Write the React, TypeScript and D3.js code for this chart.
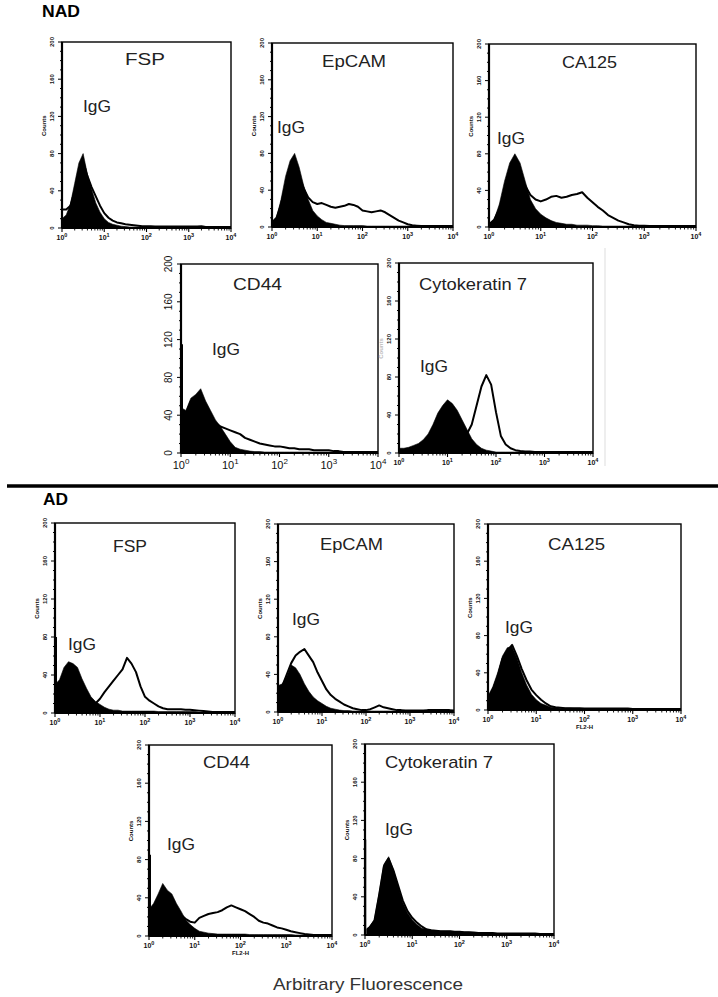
import React from 'react';
import * as d3 from 'd3';

// log10 fluorescence channel positions (0 .. 4, step 0.1)
const LOG_BINS = d3.range(0, 4.0001, 0.1);
const FLUOR = LOG_BINS.map((l) => Math.pow(10, l));

const PANEL_NAMES = ['FSP', 'EpCAM', 'CA125', 'CD44', 'Cytokeratin 7', 'FSP', 'EpCAM', 'CA125', 'CD44', 'Cytokeratin 7'];
const GROUPS = ['NAD', 'AD'];
const X_TICKS = [1, 10, 100, 1000, 10000];
const X_EXP = ['0', '1', '2', '3', '4'];
const Y_TICKS = [0, 40, 80, 120, 160, 200];

// NAD
const NAD_FSP_IGG = [10,14,26,48,70,80,58,42,27,17, 10,6,4,3,2,1.5,1,1,1,1, 1,1,1,1,1,1,1,1,1,1, 1,1,1,1,1,1,1,1,1,1, 1];
const NAD_FSP_MK = [20,20,24,40,62,72,56,44,34,24, 16,11,8,6,5,4,3.5,3,2.5,2, 2,2,1.5,1.5,1.5,1.5,1.5,1.5,1.5,1.5, 1.5,1.5,1.5,2,1,1,1,1,1,1, 1];
const NAD_EPCAM_IGG = [5,10,30,55,72,80,65,45,30,18, 12,8,5,4,3,2,1.5,1.5,1.5,1.5, 1.5,1,1,1,1,1,1,1,1,1, 1,1,1,1,1,1,1,1,1,1, 1];
const NAD_EPCAM_MK = [5,10,25,45,60,65,55,42,32,27, 25,26,24,22,21,22,23,25,24,22, 18,17,16,17,18,16,13,10,7,5, 3,2,1.5,1,1,1,1,1,1,1, 1];
const NAD_CA125_IGG = [3,8,25,50,70,80,70,50,30,20, 14,10,7,5,4,3,3,2,2,2, 1.5,1.5,1,1,1,1,1,1,1,1, 1,1,1,1,1,1,1,1,1,1, 1];
const NAD_CA125_MK = [3,8,20,40,55,62,55,45,35,30, 28,30,33,34,32,33,35,36,38,32, 27,22,18,13,10,7,5,3,2,1.5, 1.5,1,1,1,1,1,1,1,1,1, 1];
const NAD_CD44_IGG = [48,45,58,62,68,55,45,35,28,20, 12,6,4,3,2,1.5,1.5,1,1,1, 1,1,1,1,1,1,1,1,1,1, 1,1,1,1,1,1,1,1,1,1, 1];
const NAD_CD44_MK = [40,42,55,58,52,45,38,32,28,26, 24,22,20,16,14,12,10,9,8,7, 7,6,5,5,4,4,4,3,3,3, 3,2,2,1,1,1,1,1,1,1, 1];
const NAD_CK7_IGG = [5,5,6,8,10,14,20,30,42,50, 56,52,45,35,25,15,9,5,3,2, 1,1,1,1,1,1,1,1,1,1, 1,1,1,1,1,1,1,1,1,1, 1];
const NAD_CK7_MK = [3,3,3,3,3,4,4,5,5,6, 7,8,10,14,20,30,50,70,82,72, 43,18,9,5,3,2,1.5,1.5,1,1, 1,1,1,1,1,1,1,1,1,1, 1];

// AD
const AD_FSP_IGG = [30,35,48,54,52,48,36,26,17,12, 9,6,4,3,3,2,2,2,2,2, 2,2,2,1.5,1.5,1.5,1.5,1.5,1.5,1.5, 1.5,1.5,1,1,1,1,1,1,1,1, 1];
const AD_FSP_MK = [2,2,3,4,5,5,5,6,8,10, 15,22,28,34,40,46,58,52,43,28, 17,13,10,7,5,4,4,4,4,3.5, 3.5,3,2.5,2,1.5,1,1,1,1,1, 1];
const AD_EPCAM_IGG = [28,30,38,50,47,40,30,22,16,12, 9,6,4,3,2,1.5,1.5,1,1,1, 1,1,1,1,1,1,1,1,1,1, 1,1,1,1,1,1,1,1,1,1, 1];
const AD_EPCAM_MK = [25,28,40,52,60,64,67,60,53,42, 33,24,18,14,11,8,6,4,3,2, 2,3,5,7,5,4,3,2,2,1.5, 1.5,1.5,1.5,1.5,2,2,2,2,2,2, 1.5];
const AD_CA125_IGG = [15,25,40,58,67,68,56,40,27,17, 11,7,5,3,2.5,2,2,2,1.5,1.5, 1.5,1.5,1.5,1.5,1.5,1.5,1.5,1.5,1.5,1.5, 1,1,1,1,1,1,1,1,1,1, 1];
const AD_CA125_MK = [12,22,36,55,64,70,58,44,32,22, 16,11,7,4,3,2.5,2,2,2,2, 1.5,1.5,1.5,1.5,1.5,1.5,1.5,1.5,1.5,1.5, 1,1,1,1,1,1,1,1,1,1, 1];
const AD_CD44_IGG = [28,34,44,55,48,44,34,26,17,12, 8,5,4,3,2.5,2,2,2,2,2, 2,2,1.5,1.5,1.5,1.5,1.5,1.5,1.5,1.5, 1.5,1.5,1,1,1,1,1,1,1,1, 1];
const AD_CD44_MK = [20,22,25,28,30,28,26,22,18,15, 14,19,21,23,24,25,27,30,32,30, 28,26,23,20,16,14,13,11,9,8, 6.5,5,4,3,2,1.5,1,1,1,1, 1];
const AD_CK7_IGG = [5,9,16,44,74,82,68,51,34,23, 16,11,7,6,5,4.5,4,4,4,3.5, 3.5,3,3,2.5,2,2,2,2,1.5,1.5, 1.5,1.5,1.5,1.5,1.5,1.5,1.5,1,1,1, 1];
const AD_CK7_MK = [4,8,15,42,72,80,68,52,36,25, 18,13,9,6,5,4.5,4,4,4,3.5, 3.5,3,3,2.5,2,2,2,2,1.5,1.5, 1.5,1.5,1.5,1.5,1.5,1.5,1.5,1,1,1, 1];

// first-channel pile-up spike of the IgG histogram
const IGG_EDGE = [0, 0, 0, 115, 0, 80, 0, 0, 85, 100];

const IGG_SERIES = [NAD_FSP_IGG, NAD_EPCAM_IGG, NAD_CA125_IGG, NAD_CD44_IGG, NAD_CK7_IGG, AD_FSP_IGG, AD_EPCAM_IGG, AD_CA125_IGG, AD_CD44_IGG, AD_CK7_IGG];
const MK_SERIES = [NAD_FSP_MK, NAD_EPCAM_MK, NAD_CA125_MK, NAD_CD44_MK, NAD_CK7_MK, AD_FSP_MK, AD_EPCAM_MK, AD_CA125_MK, AD_CD44_MK, AD_CK7_MK];

// layout: frame box, label positions
const LAYOUT = [
  { l: 62, t: 42, r: 231, b: 228, lx: 125, ly: 65, lw: 40, gx: 83, gy: 112, big: false, fl2: false, counts: true },
  { l: 272, t: 43, r: 453, b: 227, lx: 322, ly: 67, lw: 64, gx: 277, gy: 133, big: false, fl2: false, counts: true },
  { l: 489, t: 44, r: 696, b: 227, lx: 562, ly: 68, lw: 55, gx: 497, gy: 144, big: false, fl2: false, counts: true },
  { l: 181, t: 264, r: 378, b: 453, lx: 233, ly: 290, lw: 49, gx: 212, gy: 355, big: true, fl2: false, counts: false },
  { l: 399, t: 263, r: 593, b: 453, lx: 419, ly: 290, lw: 108, gx: 420, gy: 372, big: false, fl2: false, counts: true },
  { l: 55, t: 523, r: 235, b: 713, lx: 113, ly: 552, lw: 34, gx: 68, gy: 650, big: false, fl2: false, counts: true },
  { l: 278, t: 524, r: 454, b: 712, lx: 320, ly: 550, lw: 63, gx: 292, gy: 625, big: false, fl2: false, counts: true },
  { l: 488, t: 524, r: 681, b: 710, lx: 548, ly: 550, lw: 57, gx: 505, gy: 633, big: false, fl2: true, counts: true },
  { l: 149, t: 745, r: 332, b: 936, lx: 203, ly: 768, lw: 47, gx: 167, gy: 850, big: false, fl2: true, counts: true },
  { l: 365, t: 744, r: 554, b: 935, lx: 385, ly: 768, lw: 108, gx: 385, gy: 835, big: false, fl2: false, counts: true },
];

const FONT = 'Liberation Sans, Arial, sans-serif';

function Panel({ idx }: { idx: number }) {
  const L = LAYOUT[idx];
  const x = d3.scaleLog().domain([1, 1e4]).range([L.l, L.r]);
  const y = d3.scaleLinear().domain([0, 200]).range([L.b, L.t]);
  const igg = IGG_SERIES[idx];
  const mk = MK_SERIES[idx];
  const area = d3.area<number>().x((_, i) => x(FLUOR[i])).y0(y(0)).y1((d) => y(d)).curve(d3.curveLinear);
  const line = d3.line<number>().x((_, i) => x(FLUOR[i])).y((d) => y(d)).curve(d3.curveLinear);
  const minorY = d3.range(0, 201, 10);
  const minorX: number[] = [];
  for (let dec = 0; dec < 4; dec++) for (let k = 2; k <= 9; k++) minorX.push(k * Math.pow(10, dec));
  const clipId = `clip${idx}`;
  const ySize = L.big ? 10 : 6;
  const xSize = L.big ? 11 : 7;
  return (
    <g>
      <defs>
        <clipPath id={clipId}>
          <rect x={L.l} y={L.t} width={L.r - L.l} height={L.b - L.t} />
        </clipPath>
      </defs>
      <g clipPath={`url(#${clipId})`}>
        <path d={line(mk) || ''} fill="none" stroke="#000" strokeWidth={2} strokeLinejoin="round" />
        <path d={area(igg) || ''} fill="#000" stroke="#000" strokeWidth={0.6} />
        {IGG_EDGE[idx] > 0 && (
          <line x1={x(1) + 1} x2={x(1) + 1} y1={y(0)} y2={y(IGG_EDGE[idx])} stroke={idx === 9 ? '#888' : '#000'} strokeWidth={idx === 9 ? 1 : 2} />
        )}
      </g>
      <rect x={L.l} y={L.t} width={L.r - L.l} height={L.b - L.t} fill="none" stroke="#000" strokeWidth={1.4} />
      <line x1={L.l} x2={L.l} y1={L.t} y2={L.b} stroke="#000" strokeWidth={2.2} />
      <line x1={L.l} x2={L.r} y1={L.b} y2={L.b} stroke="#000" strokeWidth={1.8} />
      {minorY.map((v) => (
        <line key={'my' + v} x1={L.l - (v % 40 === 0 ? 4 : 2)} x2={L.l} y1={y(v)} y2={y(v)} stroke="#000" strokeWidth={1} />
      ))}
      {minorX.map((v) => (
        <line key={'mx' + v} x1={x(v)} x2={x(v)} y1={L.b} y2={L.b + 2.5} stroke="#000" strokeWidth={0.9} />
      ))}
      {X_TICKS.map((v) => (
        <line key={'tx' + v} x1={x(v)} x2={x(v)} y1={L.b} y2={L.b + 4} stroke="#000" strokeWidth={1.1} />
      ))}
      {Y_TICKS.map((v) => (
        <text key={'yl' + v} transform={`translate(${L.l - (L.big ? 9 : 8)},${y(v)}) rotate(-90)`} textAnchor="middle"
          fontFamily={FONT} fontSize={ySize} fontWeight={L.big ? 'normal' : 'bold'} fill="#111">{v}</text>
      ))}
      {X_TICKS.map((v, i) => (
        <text key={'xl' + v} x={x(v)} y={L.b + (L.big ? 16 : 12)} textAnchor="middle" fontFamily={FONT}
          fontSize={xSize} fontWeight={L.big ? 'normal' : 'bold'} fill="#111">
          10<tspan dy={L.big ? -5 : -3} fontSize={L.big ? 8 : 5.5}>{X_EXP[i]}</tspan>
        </text>
      ))}
      {L.counts && (
        <text transform={`translate(${L.l - 16},${y(110)}) rotate(-90)`} textAnchor="middle" fontFamily={FONT}
          fontSize={6} fontWeight="bold" fill={idx === 4 ? '#bbb' : '#111'}>Counts</text>
      )}
      {L.fl2 && (
        <text x={(x(100))} y={L.b + 19} textAnchor="middle" fontFamily={FONT} fontSize={6} fontWeight="bold" fill="#111">FL2-H</text>
      )}
      <text x={L.lx} y={L.ly} fontFamily={FONT} fontSize={17} fill="#222" textLength={L.lw} lengthAdjust="spacingAndGlyphs">{PANEL_NAMES[idx]}</text>
      <text x={L.gx} y={L.gy} fontFamily={FONT} fontSize={17} fill="#222" textLength={28} lengthAdjust="spacingAndGlyphs">IgG</text>
    </g>
  );
}

export default function App() {
  return (
    <svg width={718} height={997} style={{ position: 'absolute', left: 0, top: 0, background: '#fff' }}>
      <rect x={0} y={0} width={718} height={997} fill="#fff" />
      <text x={42} y={17} fontFamily={FONT} fontSize={16} fontWeight="bold" fill="#000" textLength={38} lengthAdjust="spacingAndGlyphs">{GROUPS[0]}</text>
      <line x1={605} x2={605} y1={248} y2={466} stroke="#ddd" strokeWidth={1} />
      <line x1={7} x2={718} y1={486} y2={486} stroke="#000" strokeWidth={3.5} />
      <text x={43} y={505} fontFamily={FONT} fontSize={16} fontWeight="bold" fill="#000" textLength={25} lengthAdjust="spacingAndGlyphs">{GROUPS[1]}</text>
      {LAYOUT.map((_, i) => <Panel key={i} idx={i} />)}
      <text x={273} y={990} fontFamily={FONT} fontSize={17} fill="#333" textLength={190} lengthAdjust="spacingAndGlyphs">Arbitrary Fluorescence</text>
    </svg>
  );
}
